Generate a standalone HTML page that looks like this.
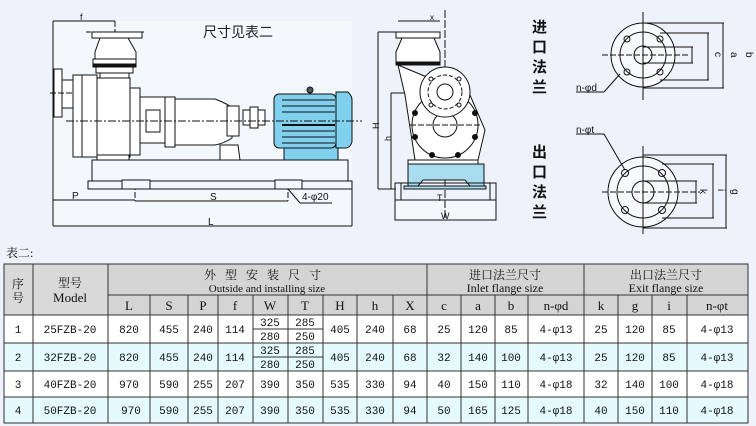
<!DOCTYPE html>
<html><head><meta charset="utf-8"><style>
html,body{margin:0;padding:0;background:#eef2fa;}
svg{display:block}
</style></head><body>
<svg width="756" height="426" viewBox="0 0 756 426" xmlns="http://www.w3.org/2000/svg" font-family="Liberation Sans, Noto Sans CJK SC, sans-serif">
<rect width="756" height="426" fill="#eef2fa"/>
<!-- ========== LEFT MAIN VIEW ========== -->
<g stroke="#111" stroke-width="1" fill="none">
<rect x="53" y="21" width="299" height="205" fill="#f2f8fc" stroke="none"/>
<!-- dimension lines -->
<line x1="53" y1="21" x2="115" y2="21"/>
<line x1="53" y1="21" x2="53" y2="226"/>
<line x1="115" y1="21" x2="115" y2="157" stroke-dasharray="6,2"/>
<line x1="53" y1="200" x2="135" y2="200"/>
<line x1="135" y1="176" x2="135" y2="201" stroke-dasharray="6,2"/>
<line x1="135" y1="201" x2="288" y2="201"/>
<line x1="288" y1="176" x2="288" y2="201" stroke-dasharray="6,2"/>
<line x1="53" y1="226" x2="352" y2="226"/>
<line x1="352" y1="189" x2="352" y2="226"/>
<!-- top flange -->
<line x1="86" y1="32" x2="144" y2="32" stroke-dasharray="5,2"/>
<rect x="92" y="32" width="50" height="6" fill="#fff"/>
<path d="M100 38 L95 52 L95 60 L136 60 L136 52 L128 38 Z" fill="#fff"/>
<rect x="93" y="59" width="43" height="5" fill="#fff"/>
<rect x="93" y="64" width="43" height="3" fill="#111"/>
<rect x="96" y="67" width="37" height="6" fill="#fff"/>
<rect x="100" y="73" width="29" height="15" fill="#fff"/>
<!-- left flange -->
<rect x="54" y="69" width="8" height="48" fill="#fff"/>
<rect x="62" y="80" width="12" height="28" fill="#fff"/>
<line x1="50" y1="93" x2="76" y2="93" stroke-dasharray="6,2"/>
<!-- casing -->
<rect x="73" y="75" width="24" height="82" fill="#fff"/>
<line x1="82" y1="75" x2="82" y2="157"/>
<rect x="97" y="78" width="33" height="79" fill="#fff"/>
<rect x="97" y="155" width="32" height="5" fill="#fff"/>
<rect x="130" y="88" width="10" height="67" fill="#fff"/>
<rect x="140" y="97" width="25" height="46" fill="#fff"/>
<rect x="146" y="110" width="14" height="22" fill="#fff"/>
<rect x="165" y="97" width="10" height="50" fill="#fff"/>
<path d="M175 99 L215 99 Q228 104 232 108 L232 138 Q225 143 215 145 L175 145 Z" fill="#fff"/>
<rect x="227" y="106" width="12" height="30" fill="#fff"/>
<path d="M220 145 L238 145 L240 160 L220 160 Z" fill="#fff"/>
<rect x="243" y="110" width="22" height="15" fill="#fff"/>
<rect x="250" y="107" width="8" height="21" fill="#fff"/>
<!-- motor -->
<rect x="284" y="146" width="54" height="15" fill="#80d0ee"/>
<rect x="274" y="94" width="62" height="54" rx="5" fill="#80d0ee"/>
<path d="M336 92 L348 92 Q352 96 352 100 L352 142 Q350 148 346 148 L336 148 Z" fill="#80d0ee"/>
<line x1="282" y1="100" x2="335" y2="100"/><line x1="282" y1="106" x2="335" y2="106"/>
<line x1="282" y1="112" x2="335" y2="112"/><line x1="282" y1="125" x2="335" y2="125" stroke-width="2"/>
<line x1="282" y1="131" x2="335" y2="131"/><line x1="282" y1="137" x2="335" y2="137"/>
<line x1="282" y1="143" x2="335" y2="143"/>
<circle cx="310" cy="90" r="3" fill="#555"/>
<!-- centerline -->
<line x1="66" y1="121" x2="362" y2="121" stroke-dasharray="8,2,2,2"/>
<!-- base -->
<rect x="92" y="160" width="256" height="22" fill="#f2f8fc"/>
<rect x="88" y="181" width="264" height="8" fill="#f2f8fc"/>
<rect x="122" y="180" width="28" height="9" fill="#f2f8fc"/>
<rect x="275" y="180" width="27" height="9" fill="#f2f8fc"/>
<line x1="288" y1="189" x2="300" y2="203"/><line x1="300" y1="203" x2="332" y2="203"/>
<!-- H -->
<line x1="378" y1="32" x2="378" y2="189"/>
<line x1="378" y1="32" x2="396" y2="32"/>
<line x1="378" y1="189" x2="396" y2="189"/>
</g>
<text x="203" y="37" font-size="14" fill="#222" font-family="Liberation Sans, Noto Sans CJK SC, sans-serif">尺寸见表二</text>
<text x="80" y="20" font-size="9" fill="#111">f</text>
<text x="72" y="199" font-size="10" fill="#111">P</text>
<text x="210" y="200" font-size="10" fill="#111">S</text>
<text x="208" y="225" font-size="10" fill="#111">L</text>
<text x="302" y="200" font-size="10" fill="#111">4-φ20</text>

<!-- ========== SIDE VIEW ========== -->
<g stroke="#111" stroke-width="1" fill="none">
<rect x="395" y="200" width="101" height="20" fill="#f2f8fc"/>
<line x1="391" y1="93" x2="420" y2="93"/>
<line x1="391" y1="93" x2="391" y2="189"/>
<line x1="398" y1="21" x2="440" y2="21"/>
<line x1="445" y1="10" x2="445" y2="220" stroke-dasharray="8,2"/>
<rect x="396" y="32" width="44" height="6" fill="#fff"/>
<path d="M402 38 L396 52 L396 62 L440 62 L440 52 L434 38 Z" fill="#fff"/>
<rect x="396" y="62" width="44" height="3" fill="#111"/>
<path d="M398 65 L405 95 L415 160 L478 160 L485 130 L470 95 Z" fill="#fff"/>
<circle cx="445" cy="125" r="33" fill="#fff"/>
<circle cx="445" cy="125" r="12" fill="#fff"/>
<circle cx="445" cy="92" r="25" fill="#fff"/>
<circle cx="445" cy="92" r="17" stroke-dasharray="4,2"/>
<circle cx="445" cy="92" r="8"/>
<circle cx="431" cy="79" r="2"/><circle cx="459" cy="79" r="2"/><circle cx="431" cy="105" r="2"/><circle cx="459" cy="105" r="2"/>
<circle cx="415" cy="113" r="2.5" fill="#111"/><circle cx="475" cy="113" r="2.5" fill="#111"/>
<circle cx="415" cy="137" r="2.5" fill="#111"/><circle cx="475" cy="137" r="2.5" fill="#111"/>
<circle cx="432" cy="155" r="2.5" fill="#111"/><circle cx="458" cy="155" r="2.5" fill="#111"/>
<line x1="410" y1="125" x2="480" y2="125" stroke-dasharray="6,2"/>
<rect x="408" y="160" width="70" height="4" fill="#fff"/>
<path d="M408 164 L484 164 L484 186 L470 186 L465 180 L423 180 L418 186 L408 186 Z" fill="#a8dcee"/>
<rect x="404" y="186" width="82" height="3" fill="#a8dcee"/>
<rect x="395" y="183" width="101" height="17" fill="none"/>
<line x1="401" y1="183" x2="401" y2="200"/><line x1="490" y1="183" x2="490" y2="200"/>
</g>
<text x="437" y="201" font-size="9" fill="#111">T</text>
<text x="441" y="219" font-size="9" fill="#111">W</text>
<text x="372" y="128" font-size="9" fill="#111" transform="rotate(-90 376 125)">H</text>
<text x="384" y="140" font-size="9" fill="#111" transform="rotate(-90 388 137)">h</text>
<text x="430" y="20" font-size="8" fill="#111">x</text>

<!-- vertical labels -->
<g font-size="15" font-weight="bold" fill="#111" font-family="Liberation Sans, Noto Sans CJK SC, sans-serif">
<text x="532" y="32">进</text><text x="532" y="52">口</text><text x="532" y="72">法</text><text x="532" y="92">兰</text>
<text x="532" y="157">出</text><text x="532" y="177">口</text><text x="532" y="197">法</text><text x="532" y="217">兰</text>
</g>

<!-- flanges -->
<g stroke="#111" stroke-width="1" fill="none">
<circle cx="643" cy="55" r="32" fill="#f6fafd"/>
<circle cx="643" cy="55" r="23"/>
<circle cx="643" cy="55" r="9"/>
<line x1="602" y1="55" x2="690" y2="55" stroke-dasharray="6,2"/>
<line x1="643" y1="12" x2="643" y2="100"/>
<circle cx="627" cy="39" r="3"/><circle cx="660" cy="39" r="3"/><circle cx="627" cy="72" r="3"/><circle cx="660" cy="72" r="3"/>
<line x1="643" y1="23" x2="724" y2="23"/><line x1="643" y1="88" x2="724" y2="88"/><line x1="723" y1="23" x2="723" y2="88"/>
<line x1="660" y1="33" x2="709" y2="33"/><line x1="660" y1="80" x2="709" y2="80"/><line x1="708" y1="33" x2="708" y2="80"/>
<line x1="643" y1="47" x2="693" y2="47"/><line x1="643" y1="63" x2="693" y2="63"/><line x1="692" y1="47" x2="692" y2="63"/>
<line x1="576" y1="92" x2="604" y2="92"/><line x1="604" y1="92" x2="620" y2="74"/>
<circle cx="643" cy="192" r="35" fill="#f6fafd"/>
<circle cx="643" cy="192" r="26"/>
<circle cx="643" cy="192" r="11"/>
<line x1="602" y1="192" x2="700" y2="192" stroke-dasharray="6,2"/>
<line x1="643" y1="146" x2="643" y2="234"/>
<circle cx="625" cy="173" r="3.5"/><circle cx="662" cy="173" r="3.5"/><circle cx="625" cy="210" r="3.5"/><circle cx="662" cy="210" r="3.5"/>
<line x1="643" y1="155" x2="727" y2="155"/><line x1="643" y1="228" x2="727" y2="228"/><line x1="726" y1="155" x2="726" y2="228"/>
<line x1="662" y1="164" x2="714" y2="164"/><line x1="662" y1="218" x2="714" y2="218"/><line x1="713" y1="164" x2="713" y2="218"/>
<line x1="643" y1="181" x2="697" y2="181"/><line x1="643" y1="203" x2="697" y2="203"/><line x1="696" y1="181" x2="696" y2="203"/>
<line x1="576" y1="134" x2="604" y2="134"/><line x1="604" y1="134" x2="625" y2="170"/>
</g>
<g font-size="10" fill="#111">
<text x="576" y="91">n-φd</text><text x="576" y="133">n-φt</text>
<text x="715" y="58" transform="rotate(90 718 55)">c</text>
<text x="731" y="58" transform="rotate(90 734 55)">a</text>
<text x="746" y="58" transform="rotate(90 749 55)">b</text>
<text x="700" y="195" transform="rotate(90 703 192)">k</text>
<text x="718" y="195" transform="rotate(90 721 192)">i</text>
<text x="732" y="195" transform="rotate(90 735 192)">g</text>
</g>

<!-- ========== TABLE ========== -->
<text x="6" y="257" font-size="12" fill="#111" font-family="Liberation Serif, Noto Serif CJK SC, serif">表二:</text>
<g stroke="none">
<rect x="4" y="264" width="744" height="51" fill="#d4d4d4"/>
<rect x="4" y="264" width="104" height="51" fill="#d9d9d9"/>
<rect x="4" y="315" width="744" height="28" fill="#ffffff"/>
<rect x="4" y="343" width="744" height="28" fill="#e4fafc"/>
<rect x="4" y="371" width="744" height="26" fill="#ffffff"/>
<rect x="4" y="397" width="744" height="26" fill="#e4fafc"/>
</g>
<g stroke="#333" stroke-width="1" fill="none">
<rect x="4" y="264" width="744" height="159"/>
<line x1="108" y1="295" x2="748" y2="295"/>
<line x1="4" y1="315" x2="748" y2="315"/>
<line x1="4" y1="343" x2="748" y2="343"/>
<line x1="4" y1="371" x2="748" y2="371"/>
<line x1="4" y1="397" x2="748" y2="397"/>
<line x1="33" y1="264" x2="33" y2="423"/>
<line x1="108" y1="264" x2="108" y2="423"/>
<line x1="427" y1="264" x2="427" y2="423"/>
<line x1="584" y1="264" x2="584" y2="423"/>
<g>
<line x1="150" y1="295" x2="150" y2="423"/><line x1="188" y1="295" x2="188" y2="423"/>
<line x1="218" y1="295" x2="218" y2="423"/><line x1="253" y1="295" x2="253" y2="423"/>
<line x1="288" y1="295" x2="288" y2="423"/><line x1="323" y1="295" x2="323" y2="423"/>
<line x1="357" y1="295" x2="357" y2="423"/><line x1="393" y1="295" x2="393" y2="423"/>
<line x1="461" y1="295" x2="461" y2="423"/><line x1="495" y1="295" x2="495" y2="423"/>
<line x1="528" y1="295" x2="528" y2="423"/><line x1="618" y1="295" x2="618" y2="423"/>
<line x1="652" y1="295" x2="652" y2="423"/><line x1="687" y1="295" x2="687" y2="423"/>
</g>
<line x1="253" y1="329" x2="323" y2="329"/>
<line x1="253" y1="357" x2="323" y2="357"/>
</g>
<g font-family="Liberation Serif, Noto Serif CJK SC, serif" fill="#111" text-anchor="middle">
<text x="18" y="288" font-size="12">序</text><text x="18" y="302" font-size="12">号</text>
<text x="70" y="287" font-size="12">型号</text><text x="70" y="302" font-size="13">Model</text>
<text x="267" y="279" font-size="12" letter-spacing="9">外型安装尺寸</text>
<text x="267" y="292" font-size="11">Outside and installing size</text>
<text x="505" y="279" font-size="12">进口法兰尺寸</text>
<text x="505" y="292" font-size="12">Inlet flange size</text>
<text x="666" y="279" font-size="12">出口法兰尺寸</text>
<text x="666" y="292" font-size="12">Exit flange size</text>
<g font-size="13">
<text x="129" y="310">L</text><text x="169" y="310">S</text><text x="203" y="310">P</text><text x="235" y="310">f</text>
<text x="270" y="310">W</text><text x="305" y="310">T</text><text x="340" y="310">H</text><text x="375" y="310">h</text><text x="410" y="310">X</text>
<text x="444" y="310">c</text><text x="478" y="310">a</text><text x="511" y="310">b</text><text x="556" y="310">n-φd</text>
<text x="601" y="310">k</text><text x="635" y="310">g</text><text x="669" y="310">i</text><text x="717" y="310">n-φt</text>
</g>
</g>
<g font-family="Liberation Mono, monospace" font-size="11" fill="#111" text-anchor="middle">
<g>
<text x="18" y="333">1</text><text x="70" y="333">25FZB-20</text><text x="129" y="333">820</text><text x="169" y="333">455</text><text x="203" y="333">240</text><text x="235" y="333">114</text>
<text x="270" y="326">325</text><text x="270" y="340">280</text><text x="305" y="326">285</text><text x="305" y="340">250</text>
<text x="340" y="333">405</text><text x="375" y="333">240</text><text x="410" y="333">68</text>
<text x="444" y="333">25</text><text x="478" y="333">120</text><text x="511" y="333">85</text><text x="556" y="333">4-φ13</text>
<text x="601" y="333">25</text><text x="635" y="333">120</text><text x="669" y="333">85</text><text x="717" y="333">4-φ13</text>
</g>
<g>
<text x="18" y="361">2</text><text x="70" y="361">32FZB-20</text><text x="129" y="361">820</text><text x="169" y="361">455</text><text x="203" y="361">240</text><text x="235" y="361">114</text>
<text x="270" y="354">325</text><text x="270" y="368">280</text><text x="305" y="354">285</text><text x="305" y="368">250</text>
<text x="340" y="361">405</text><text x="375" y="361">240</text><text x="410" y="361">68</text>
<text x="444" y="361">32</text><text x="478" y="361">140</text><text x="511" y="361">100</text><text x="556" y="361">4-φ13</text>
<text x="601" y="361">25</text><text x="635" y="361">120</text><text x="669" y="361">85</text><text x="717" y="361">4-φ13</text>
</g>
<g>
<text x="18" y="388">3</text><text x="70" y="388">40FZB-20</text><text x="129" y="388">970</text><text x="169" y="388">590</text><text x="203" y="388">255</text><text x="235" y="388">207</text>
<text x="270" y="388">390</text><text x="305" y="388">350</text>
<text x="340" y="388">535</text><text x="375" y="388">330</text><text x="410" y="388">94</text>
<text x="444" y="388">40</text><text x="478" y="388">150</text><text x="511" y="388">110</text><text x="556" y="388">4-φ18</text>
<text x="601" y="388">32</text><text x="635" y="388">140</text><text x="669" y="388">100</text><text x="717" y="388">4-φ18</text>
</g>
<g>
<text x="18" y="414">4</text><text x="70" y="414">50FZB-20</text><text x="131" y="414">970</text><text x="169" y="414">590</text><text x="203" y="414">255</text><text x="235" y="414">207</text>
<text x="270" y="414">390</text><text x="305" y="414">350</text>
<text x="340" y="414">535</text><text x="375" y="414">330</text><text x="410" y="414">94</text>
<text x="444" y="414">50</text><text x="478" y="414">165</text><text x="511" y="414">125</text><text x="556" y="414">4-φ18</text>
<text x="601" y="414">40</text><text x="635" y="414">150</text><text x="669" y="414">110</text><text x="717" y="414">4-φ18</text>
</g>
</g>
</svg>
</body></html>
